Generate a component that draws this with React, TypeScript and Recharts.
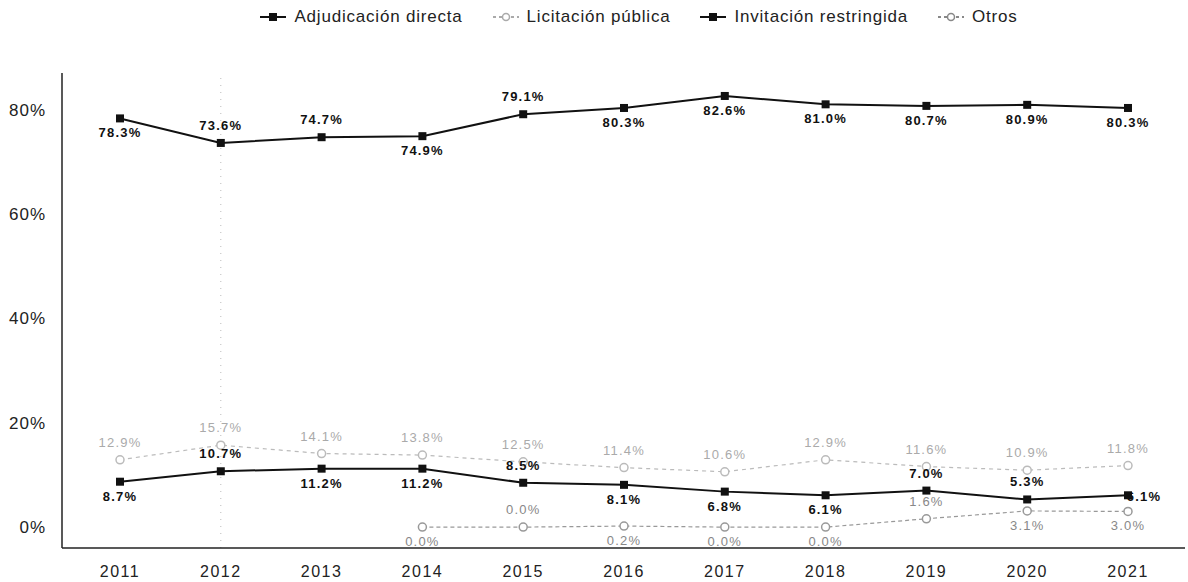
import React from "react";
import {
  LineChart,
  Line,
  XAxis,
  YAxis,
  LabelList,
  ReferenceLine,
} from "recharts";

const years = [2011, 2012, 2013, 2014, 2015, 2016, 2017, 2018, 2019, 2020, 2021];
const adjudicacion = [78.3, 73.6, 74.7, 74.9, 79.1, 80.3, 82.6, 81.0, 80.7, 80.9, 80.3];
const licitacion = [12.9, 15.7, 14.1, 13.8, 12.5, 11.4, 10.6, 12.9, 11.6, 10.9, 11.8];
const invitacion = [8.7, 10.7, 11.2, 11.2, 8.5, 8.1, 6.8, 6.1, 7.0, 5.3, 6.1];
const otros = [null, null, null, 0.0, 0.0, 0.2, 0.0, 0.0, 1.6, 3.1, 3.0];
const yTicks = [0, 20, 40, 60, 80];

// which side of the point each value label sits on
const adjSide = ["below", "above", "above", "below", "above", "below", "below", "below", "below", "below", "below"];
const licSide = ["above", "above", "above", "above", "above", "above", "above", "above", "above", "above", "above"];
const invSide = ["below", "above", "below", "below", "above", "below", "below", "below", "above", "above", "right"];
const otrSide = ["below", "below", "below", "below", "above", "below", "below", "below", "above", "below", "below"];

const data = years.map((y, i) => ({
  year: y,
  adj: adjudicacion[i],
  lic: licitacion[i],
  inv: invitacion[i],
  otr: otros[i],
}));

const FONT = "Liberation Sans, Arial, sans-serif";

const SquareDot = (props: any) => {
  const { cx, cy } = props;
  if (cx == null || cy == null) return null;
  return <rect x={cx - 4} y={cy - 4} width={8} height={8} fill="#111" />;
};

const RoundDot = (color: string) => (props: any) => {
  const { cx, cy } = props;
  if (cx == null || cy == null || props.value == null) return null;
  return <circle cx={cx} cy={cy} r={4} fill="#fff" stroke={color} strokeWidth={1.5} />;
};

const makeLabel = (sides: string[], color: string, bold: boolean) => (props: any) => {
  const { x, y, value, index } = props;
  if (value == null || x == null) return null;
  const side = sides[index];
  let dy = side === "above" ? -13 : 19;
  let dx = 0;
  if (side === "right") {
    dx = 16;
    dy = 6;
  }
  return (
    <text
      x={x + dx}
      y={y + dy}
      textAnchor="middle"
      fill={color}
      fontSize={13}
      letterSpacing={1.2}
      fontWeight={bold ? 700 : 400}
      fontFamily={FONT}
    >
      {Number(value).toFixed(1) + "%"}
    </text>
  );
};

const legendItems = [
  { name: "Adjudicación directa", color: "#111", dash: "", dot: "square" },
  { name: "Licitación pública", color: "#aaa", dash: "3 3", dot: "circle" },
  { name: "Invitación restringida", color: "#111", dash: "", dot: "square" },
  { name: "Otros", color: "#888", dash: "3 3", dot: "circle" },
];

const LegendBox = () => (
  <div
    style={{
      position: "absolute",
      left: 0,
      top: 7,
      width: 1188,
      display: "flex",
      justifyContent: "center",
      gap: 30,
      fontFamily: FONT,
      fontSize: 17,
      letterSpacing: 0.8,
      color: "#222",
      paddingLeft: 90,
      boxSizing: "border-box",
    }}
  >
    {legendItems.map((it) => (
      <span key={it.name} style={{ display: "flex", alignItems: "center", gap: 8 }}>
        <svg width={26} height={12}>
          <line x1={0} y1={6} x2={26} y2={6} stroke={it.color} strokeWidth={2} strokeDasharray={it.dash} />
          {it.dot === "square" ? (
            <rect x={9} y={2} width={8} height={8} fill={it.color} />
          ) : (
            <circle cx={13} cy={6} r={3.5} fill="#fff" stroke={it.color} strokeWidth={1.5} />
          )}
        </svg>
        {it.name}
      </span>
    ))}
  </div>
);

export default function App() {
  return (
    <div style={{ position: "absolute", left: 0, top: 0, width: 1188, height: 582, background: "#fff" }}>
      <LegendBox />
      <LineChart width={1188} height={582} data={data} margin={{ top: 73, right: 3, left: 0, bottom: 4 }}>
        <XAxis
          dataKey="year"
          type="number"
          domain={[2011, 2021]}
          ticks={years}
          padding={{ left: 58, right: 57 }}
          height={30}
          tickLine={false}
          axisLine={{ stroke: "#222", strokeWidth: 1.5 }}
          tick={{ fill: "#222", fontSize: 16, letterSpacing: 1.5, fontFamily: FONT }}
          tickMargin={12}
          allowDecimals={false}
        />
        <YAxis
          type="number"
          domain={[-4, 87]}
          ticks={yTicks}
          width={62}
          tickLine={false}
          axisLine={{ stroke: "#222", strokeWidth: 1.5 }}
          tick={{ fill: "#222", fontSize: 17, letterSpacing: 1, fontFamily: FONT }}
          tickFormatter={(v: number) => v + "%"}
          tickMargin={10}
        />
        <ReferenceLine x={2012} stroke="#bbb" strokeDasharray="1 6" />
        <Line
          dataKey="lic"
          stroke="#bbb"
          strokeWidth={1.2}
          strokeDasharray="4 4"
          dot={RoundDot("#bbb")}
          isAnimationActive={false}
        >
          <LabelList dataKey="lic" content={makeLabel(licSide, "#aaa", false)} />
        </Line>
        <Line
          dataKey="otr"
          stroke="#999"
          strokeWidth={1.2}
          strokeDasharray="4 3"
          dot={RoundDot("#999")}
          isAnimationActive={false}
        >
          <LabelList dataKey="otr" content={makeLabel(otrSide, "#888", false)} />
        </Line>
        <Line dataKey="inv" stroke="#111" strokeWidth={2} dot={<SquareDot />} isAnimationActive={false}>
          <LabelList dataKey="inv" content={makeLabel(invSide, "#111", true)} />
        </Line>
        <Line dataKey="adj" stroke="#111" strokeWidth={2} dot={<SquareDot />} isAnimationActive={false}>
          <LabelList dataKey="adj" content={makeLabel(adjSide, "#111", true)} />
        </Line>
      </LineChart>
    </div>
  );
}
